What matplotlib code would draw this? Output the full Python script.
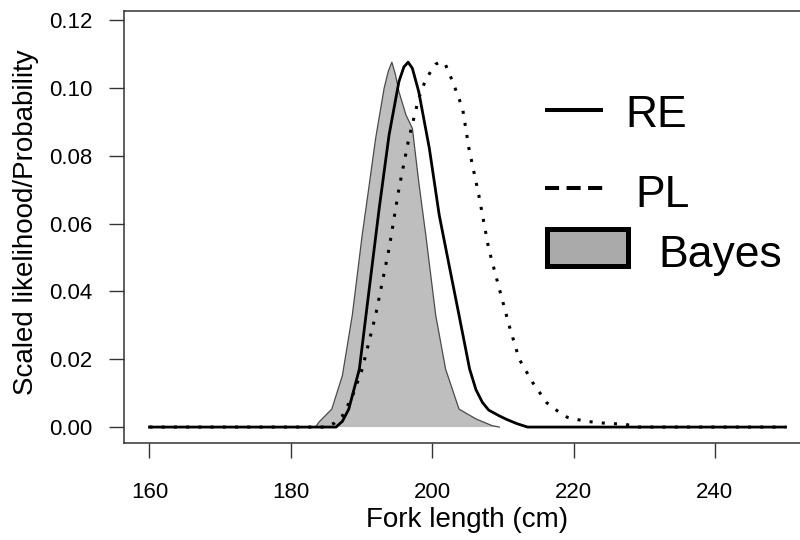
import matplotlib
matplotlib.use("Agg")
import matplotlib.pyplot as plt
from matplotlib.lines import Line2D
from matplotlib.patches import Rectangle

plt.rcParams["font.family"] = ["Liberation Sans", "DejaVu Sans"]

# values
re_x = [160, 186.4, 187.3, 188.2, 189.7, 191.1, 192.5, 193.9, 195.3, 196.0, 196.6, 197.2,
        198.1, 199.6, 201.0, 202.4, 203.8, 205.3, 206.2, 207.1, 208.0, 209.5, 210.6,
        212.0, 213.5, 250]
re_y = [0.0, 0.0, 0.0017, 0.0053, 0.0171, 0.0408, 0.0644, 0.0861, 0.1019, 0.1062, 0.1076, 0.1058,
        0.0989, 0.0822, 0.0625, 0.0477, 0.0330, 0.0171, 0.0110, 0.0073, 0.0050, 0.0033, 0.0022,
        0.0010, 0.0, 0.0]

pl_x = [160, 185.0, 186.2, 187.3, 188.7, 190.1, 192.0, 193.9, 195.3, 196.7, 198.1, 199.0,
        199.8, 200.5, 201.2, 201.9, 202.9, 204.3, 205.2, 206.6, 208.0, 209.5, 210.9, 212.3,
        214.2, 216.2, 217.7, 219.1, 220.8, 222.2, 224.1, 225.7, 227.4, 229.0, 250]
pl_y = [0.0, 0.0, 0.0012, 0.0033, 0.0090, 0.0171, 0.0330, 0.0526, 0.0703, 0.0851, 0.0970, 0.1020,
        0.1049, 0.1070, 0.1078, 0.1068, 0.1019, 0.0940, 0.0822, 0.0684, 0.0526, 0.0408, 0.0299,
        0.0201, 0.0132, 0.0072, 0.0048, 0.0029, 0.0021, 0.0016, 0.0012, 0.0010, 0.0008, 0.0, 0.0]

bayes_x = [183.5, 184.0, 185.8, 187.3, 188.7, 190.1, 191.0, 192.0, 193.2, 193.8, 194.3, 194.8,
           195.3, 196.3, 197.2, 198.1, 199.1, 200.5, 201.9, 203.8, 206.2, 208.5, 209.5]
bayes_y = [0.0, 0.0015, 0.0053, 0.0152, 0.0330, 0.0566, 0.0700, 0.0851, 0.0999, 0.1050, 0.1076,
           0.1040, 0.0989, 0.0920, 0.0881, 0.0723, 0.0566, 0.0330, 0.0171, 0.0053, 0.0024,
           0.0004, 0.0]

x_ticks = [160, 180, 200, 220, 240]
y_ticks = [0.00, 0.02, 0.04, 0.06, 0.08, 0.10, 0.12]

W, H = 800, 540


def fx(px):
    return px / W


def fy(py):
    return 1 - py / H


fig = plt.figure(figsize=(8, 5.4), dpi=100)
ax = fig.add_axes([fx(124), fy(443), fx(811) - fx(124), fy(11) - fy(443)])

ax.fill_between(bayes_x, bayes_y, 0, facecolor="#bebebe", edgecolor="none", zorder=1)
ax.plot(bayes_x, bayes_y, color="#4a4a4a", lw=0.9, zorder=2)
ax.plot(pl_x, pl_y, color="black", lw=2.2, linestyle=(0, (1, 3)), zorder=3)
ax.plot(re_x, re_y, color="black", lw=2.0, zorder=4)

ax.set_xlim(156.4, 253.6)
ax.set_ylim(-0.0047, 0.1227)
ax.set_xticks(x_ticks)
ax.set_yticks(y_ticks)
ax.set_yticklabels([f"{v:.2f}" for v in y_ticks])
ax.tick_params(axis="both", length=10.8, width=1.0, labelsize=16, color="#333333")
ax.tick_params(axis="x", pad=17)
ax.tick_params(axis="y", pad=12)
for spine in ax.spines.values():
    spine.set_linewidth(1.1)
    spine.set_color("#333333")
# the right edge of the box falls outside the picture in the reference
ax.spines["right"].set_visible(False)

ax.set_xlabel("Fork length (cm)", fontsize=20)
ax.set_ylabel("Scaled likelihood/Probability", fontsize=20)
ax.xaxis.set_label_coords(0.5, -0.147)
ax.yaxis.set_label_coords(-0.123, 0.512)

# legend drawn by hand, as in the reference
fig.add_artist(Line2D([fx(545), fx(603)], [fy(110), fy(110)], color="black", lw=2.9,
                      solid_capstyle="butt", transform=fig.transFigure))
fig.add_artist(Line2D([fx(545), fx(604)], [fy(188), fy(188)], color="black", lw=2.9,
                      linestyle=(0, (3.5, 1.85)), dash_capstyle="butt", transform=fig.transFigure))
fig.add_artist(Rectangle((fx(547), fy(266)), fx(628) - fx(547), fy(229) - fy(266),
                         facecolor="#aaaaaa", edgecolor="black", lw=3.6,
                         transform=fig.transFigure))
fig.text(fx(625), fy(127), "RE", fontsize=32, va="baseline", ha="left")
fig.text(fx(635), fy(207), "PL", fontsize=32, va="baseline", ha="left")
fig.text(fx(658), fy(267), "Bayes", fontsize=32, va="baseline", ha="left")

fig.savefig("out.png", dpi=100)
